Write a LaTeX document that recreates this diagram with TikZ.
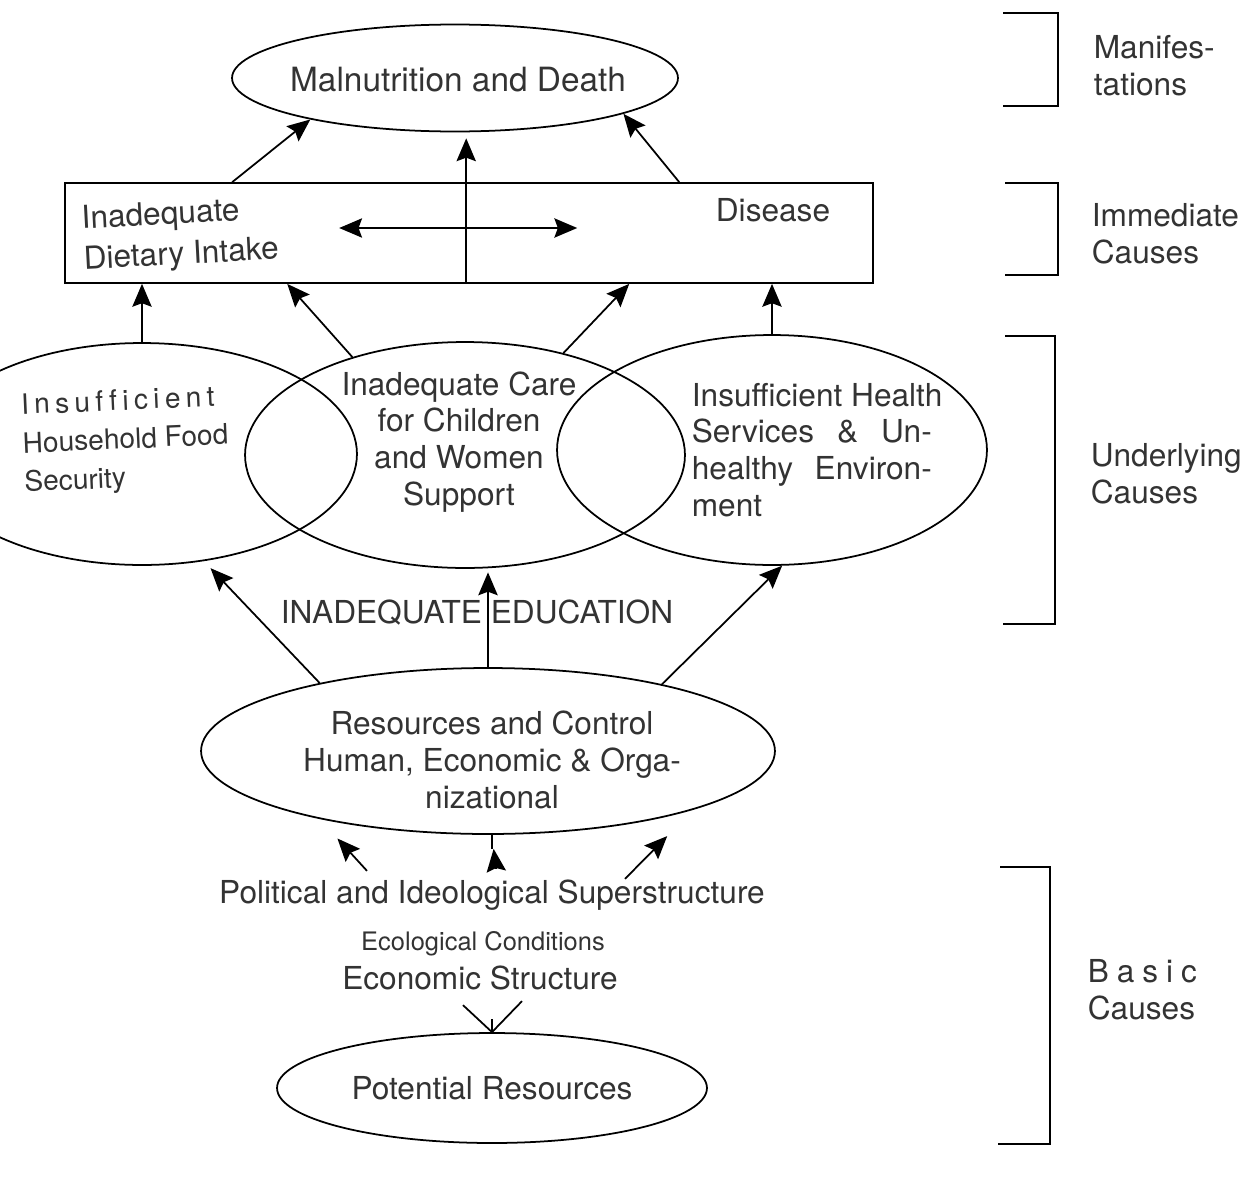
\documentclass[tikz,border=0pt]{standalone}
\usepackage{fontspec}
\setmainfont{TeX Gyre Heros}
\usetikzlibrary{arrows.meta,calc,shapes.geometric}

\begin{document}
\begin{tikzpicture}[x=0.02cm,y=-0.02cm,line width=1pt,
	txt/.style={text=black!80,inner sep=0pt,font=\fontsize{18}{21}\selectfont},
	oval/.style={draw,ellipse,inner sep=0pt},
	arr/.style={-{Stealth[length=13pt,width=11pt,inset=2pt]}},
	dbl/.style={{Stealth[length=13pt,width=11pt,inset=2pt]}-{Stealth[length=13pt,width=11pt,inset=2pt]}}]
	\useasboundingbox (0,0) rectangle (1250,1183);

	% manifestations
	\node[oval,minimum width=8.92cm,minimum height=2.14cm] (mal) at (455,78) {};
	\node[txt,font=\fontsize{19}{22}\selectfont] (malt) at (458,80) {Malnutrition and Death};

	% immediate causes
	\node[draw,minimum width=16.16cm,minimum height=2cm,inner sep=0pt] (box) at (469,233) {};
	\node[txt,align=left,anchor=west,rotate=3,font=\fontsize{18}{23}\selectfont] (diet) at (82,241) {Inadequate\\Dietary Intake};
	\node[txt] (dis) at (773,210) {Disease};
	\coordinate (mid) at ($(box.south west)+(402,0)$);

	% underlying causes
	\node[oval,minimum width=8.6cm,minimum height=4.44cm] (food) at (142,454) {};
	\node[oval,minimum width=8.8cm,minimum height=4.52cm] (care) at (465,455) {};
	\node[oval,minimum width=8.6cm,minimum height=4.6cm] (health) at (772,450) {};
	\node[txt,align=left,anchor=west,rotate=2.5,font=\fontsize{16}{22}\selectfont] (foodt) at (22,446) {{\addfontfeatures{LetterSpace=19,Ligatures=NoCommon}Insufficient}\\Household Food\\Security};
	\node[txt,align=center] (caret) at (459,442) {Inadequate Care\\for Children\\and Women\\Support};
	\node[txt,align=left,anchor=west] (healtht) at (691,450) {Insufficient Health\\\makebox[4.8cm][s]{Services \& Un-}\\\makebox[4.8cm][s]{healthy Environ-}\\ment};
	\node[txt] (edu) at (477,613) {INADEQUATE EDUCATION};

	% basic causes
	\node[oval,minimum width=11.48cm,minimum height=3.32cm] (res) at (488,751) {};
	\node[txt,align=center] (rest) at (492,760) {Resources and Control\\Human, Economic \& Orga-\\nizational};
	\node[txt] (pol) at (492,895) {Political and Ideological Superstructure};
	\node[txt,font=\fontsize{14.5}{17}\selectfont] (ecol) at (483,944) {Ecological Conditions};
	\node[txt] (econ) at (480,978) {Economic Structure};
	\node[oval,txt,minimum width=8.6cm,minimum height=2.2cm] (pot) at (492,1088) {Potential Resources};

	% |
	\draw[arr] ($(box.north west)+(168,0)$) -- (mal.-164);
	\draw[arr,shorten >=3.4pt] (mid) -- (mid |- mal.south);
	\draw[arr] ($(box.north west)+(615,0)$) -- (mal.-12);
	\draw[dbl] ($(box.west)+(275,-5)$) -- ($(box.west)+(513,-5)$);

	\draw[arr] (food.north) -- (food.north |- box.south);
	\draw[arr] (care.139) -- ($(box.south west)+(223,0)$);
	\draw[arr] (care.46) -- ($(box.south west)+(565,0)$);
	\draw[arr] (health.north) -- (health.north |- box.south);

	\draw[arr,shorten >=5.5pt] (res.158) -- (food.-60);
	\draw[arr,shorten >=2pt] (res.north) -- (res.north |- care.south);
	\draw[arr] (res.21) -- (health.-85);

	\draw[arr,shorten >=15pt] ($(pol.north)+(-125,-8)$) -- (res.-158.6);
	\draw[arr,shorten >=8pt] ($(pol.north)+(4,-10)$) -- (res.south -| pol.north);
	\draw ($(res.south -| pol.north)$) -- ++(0,14);
	\draw[arr,shorten >=21pt] ($(pol.north)+(133,0)$) -- (res.-16.8);

	\draw (pot.north) -- ++(0,-13);
	\draw (pot.north) -- ++(-29,-27);
	\draw (pot.north) -- ++(30,-31);

	% brackets
	\draw (1003,13) -- (1058,13) -- (1058,106) -- (1003,106);
	\draw (1005,183) -- (1058,183) -- (1058,275) -- (1005,275);
	\draw (1005,336) -- (1055,336) -- (1055,624) -- (1003,624);
	\draw (1000,867) -- (1050,867) -- (1050,1144) -- (998,1144);

	% label
	\node[txt,align=left,anchor=west] (lman) at (1093,66) {Manifes-\\tations};
	\node[txt,align=left,anchor=west] (limm) at (1091,234) {Immediate\\Causes};
	\node[txt,align=left,anchor=west] (lund) at (1090,474) {Underlying\\Causes};
	\node[txt,align=left,anchor=west] (lbas) at (1087,990) {{\addfontfeatures{LetterSpace=25}Basic}\\Causes};
\end{tikzpicture}
\end{document}
